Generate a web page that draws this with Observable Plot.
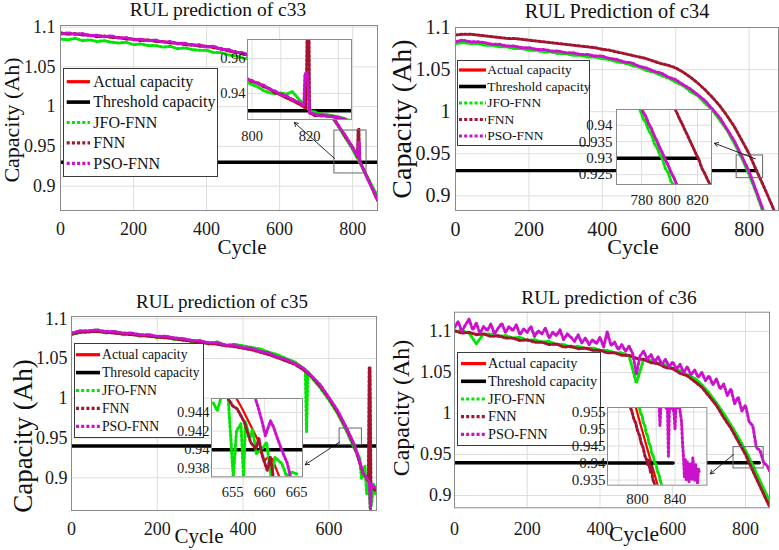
<!DOCTYPE html>
<html>
<head>
<meta charset="utf-8">
<script src="https://cdn.jsdelivr.net/npm/d3@7"></script>
<script src="https://cdn.jsdelivr.net/npm/@observablehq/plot@0.6"></script>
<style>
  html, body { margin: 0; padding: 0; background: #fff; }
  #fig { position: relative; width: 779px; height: 550px; overflow: hidden; background: #fff;
         font-family: "Liberation Serif", "Times New Roman", serif; color: #111; }
  .lbl { position: absolute; white-space: nowrap; line-height: 1; transform: translate(-50%, -50%); }
  .ylbl { transform: translate(-50%, -50%) rotate(-90deg); }
</style>
</head>
<body>
<div id="fig"></div>
<script>
// ---------- capacity data (Ah) per cycle ----------
const cyc20 = [0,20,40,60,80,100,120,140,160,180,200,220,240,260,280,300,320,340,360,380,400,420,440,460,480,500,520,540,560,580,600,620,640,660,680,700,720,740,760,780,800,820,840,860];

// battery c33
const cycles33 = cyc20.concat([868]);
const actual33 = [1.092,1.092,1.091,1.091,1.090,1.089,1.088,1.088,1.087,1.086,
  1.085,1.084,1.084,1.083,1.082,1.081,1.080,1.079,1.078,1.077,
  1.076,1.075,1.073,1.071,1.069,1.067,1.064,1.061,1.058,1.054,
  1.050,1.045,1.039,1.032,1.024,1.015,1.004,0.991,0.977,0.963,
  0.949,0.930,0.911,0.891,0.882];
const jfo33 = [1.085,1.084,1.086,1.083,1.084,1.082,1.083,1.081,1.080,1.081,
  1.078,1.079,1.077,1.077,1.075,1.076,1.073,1.074,1.072,1.071,
  1.071,1.068,1.068,1.065,1.064,1.061,1.060,1.057,1.054,1.051,
  1.047,1.042,1.037,1.030,1.022,1.013,1.002,0.989,0.976,0.961,
  0.946,0.929,0.912,0.894,0.889];
const fnn33 = [1.093,1.091,1.092,1.090,1.090,1.088,1.089,1.087,1.087,1.085,
  1.085,1.083,1.084,1.082,1.082,1.080,1.080,1.078,1.078,1.076,
  1.076,1.074,1.073,1.070,1.069,1.066,1.064,1.060,1.058,1.053,
  1.050,1.044,1.039,1.031,1.024,1.014,1.004,0.990,0.977,0.962,
  0.949,0.931,0.911,0.890,0.882];
const fnnSpike33 = [[813,0.937],[815,0.972],[817,0.972],[819,0.934]];
const pso33 = [1.091,1.093,1.091,1.092,1.089,1.090,1.088,1.089,1.086,1.087,
  1.084,1.085,1.083,1.084,1.081,1.082,1.079,1.080,1.077,1.078,
  1.075,1.076,1.072,1.072,1.068,1.068,1.063,1.062,1.057,1.055,
  1.049,1.046,1.038,1.033,1.023,1.016,1.003,0.992,0.976,0.964,
  0.948,0.931,0.910,0.892,0.883];
const psoSpike33 = [[814,0.938],[816,0.955],[818,0.955],[819.5,0.933]];
const inCycles33 = [798,800,802,804,806,808,810,812,814,816,818,820,822,824,826,828,830,832,834];
const inActual33 = [0.9484,0.9470,0.9457,0.9440,0.9422,0.9404,0.9388,0.9372,0.9356,0.9340,0.9320,0.9292,0.9277,0.9272,0.9270,0.9266,0.9260,0.9250,0.9238];
const inJfo33 = [0.9466,0.9450,0.9438,0.9416,0.9404,0.9398,0.9402,0.9396,0.9410,0.9372,0.9338,0.9302,0.9292,0.9280,0.9278,0.9272,0.9266,0.9256,0.9244];
const inFnn33 = [0.9488,0.9466,0.9462,0.9438,0.9430,0.9402,0.9398,0.9375,0.9368,0.9342,0.9330,0.9288,0.9272,0.9276,0.9268,0.9268,0.9258,0.9252,0.9236];
const inFnnSpike33 = [[818.8,0.9320],[819.2,0.9800],[819.8,0.9800]];
const inPso33 = [0.9482,0.9474,0.9455,0.9448,0.9425,0.9414,0.9392,0.9386,0.9362,0.9352,0.9330,0.9290,0.9280,0.9270,0.9272,0.9264,0.9262,0.9252,0.9240];
const inPsoSpike33 = [[818.4,0.9515],[819.2,0.9515]];

// battery c34
const cycles34 = cyc20.concat([880]);
const actual34 = [1.083,1.084,1.083,1.082,1.081,1.080,1.079,1.078,1.077,1.076,
  1.075,1.074,1.073,1.072,1.071,1.070,1.069,1.068,1.067,1.066,
  1.065,1.063,1.061,1.059,1.057,1.054,1.051,1.048,1.045,1.041,
  1.037,1.032,1.026,1.020,1.012,1.003,0.992,0.979,0.964,0.947,
  0.928,0.905,0.880,null,null];
const jfo34 = [1.081,1.082,1.081,1.081,1.079,1.079,1.077,1.077,1.075,1.075,
  1.073,1.073,1.071,1.071,1.069,1.069,1.067,1.067,1.065,1.065,
  1.063,1.062,1.059,1.058,1.055,1.053,1.049,1.047,1.043,1.040,
  1.035,1.031,1.024,1.019,1.010,1.002,0.990,0.978,0.962,0.945,
  0.925,0.903,0.878,null,null];
const fnn34 = [1.091,1.092,1.092,1.091,1.090,1.089,1.088,1.087,1.087,1.086,
  1.085,1.084,1.083,1.082,1.081,1.080,1.079,1.078,1.077,1.076,
  1.074,1.073,1.071,1.069,1.067,1.065,1.063,1.060,1.057,1.055,
  1.052,1.047,1.041,1.034,1.026,1.017,1.007,0.995,0.982,0.966,
  0.950,0.930,0.911,0.891,0.870];
const pso34 = [1.083,1.085,1.083,1.083,1.082,1.080,1.080,1.078,1.078,1.076,
  1.076,1.074,1.074,1.072,1.072,1.070,1.070,1.068,1.068,1.066,
  1.066,1.063,1.062,1.059,1.058,1.054,1.052,1.048,1.046,1.041,
  1.038,1.032,1.027,1.020,1.013,1.003,0.993,0.979,0.965,0.947,
  0.929,0.905,0.881,null,null];
const inActual34 = [[777,0.9478],[779,0.9459],[781,0.9442],[783,0.9425],[785,0.9404],[787,0.9388],[789,0.9369],[791,0.9350],[793,0.9333],[795,0.9312],[797,0.9296],[799,0.9276],[801,0.9259],[803,0.9240],[805,0.9222],[807,0.9203]];
const inJfo34 = [[775,0.9478],[777,0.9455],[779,0.9446],[781,0.9420],[783,0.9408],[785,0.9384],[787,0.9372],[789,0.9345],[791,0.9332],[793,0.9310],[795,0.9296],[797,0.9268],[799,0.9256],[801,0.9230],[803,0.9218],[805,0.9195]];
const inFnn34 = [[801,0.9475],[803,0.9458],[805,0.9440],[807,0.9421],[809,0.9404],[811,0.9385],[813,0.9368],[815,0.9349],[817,0.9331],[819,0.9312],[821,0.9296],[823,0.9270],[825,0.9255],[827,0.9236],[829,0.9220],[831,0.9200]];
const inPso34 = [[777,0.9480],[779,0.9462],[781,0.9440],[783,0.9427],[785,0.9405],[787,0.9390],[789,0.9368],[791,0.9352],[793,0.9331],[795,0.9315],[797,0.9294],[799,0.9279],[801,0.9257],[803,0.9242],[805,0.9220],[807,0.9205]];

// battery c35
const cycles35 = cyc20.filter(c => c <= 700).concat([708]);
const actual35 = [1.082,1.084,1.085,1.085,1.084,1.083,1.082,1.081,1.080,1.079,
  1.078,1.077,1.076,1.074,1.073,1.071,1.070,1.069,1.067,1.066,
  1.064,1.062,1.059,1.056,1.052,1.048,1.044,1.037,1.028,1.016,
  1.001,0.984,0.964,0.940,0.906,0.890,0.885];
const jfo35 = [1.080,1.083,1.083,1.086,1.082,1.084,1.080,1.082,1.078,1.080,
  1.076,1.078,1.074,1.075,1.071,1.073,1.068,1.071,1.066,1.068,
  1.066,1.064,1.062,1.058,1.055,1.050,1.046,1.038,1.026,1.013,
  0.998,0.981,0.960,0.936,0.910,0.868,0.880];
const jfoSpike35 = [[545,1.036],[548,0.958],[551,1.034],[672,0.925],[676,0.898],[684,0.915],[688,0.880],[692,0.905],[696,0.862],[704,0.892]];
const fnn35 = [1.081,1.083,1.084,1.084,1.083,1.082,1.081,1.080,1.079,1.078,
  1.077,1.076,1.075,1.073,1.072,1.070,1.069,1.068,1.066,1.065,
  1.063,1.061,1.058,1.055,1.051,1.047,1.043,1.036,1.027,1.015,
  1.000,0.983,0.963,0.939,0.905,0.889,0.884];
const fnnSpike35 = [[692,0.896],[694,1.038],[696,1.038],[698,0.893]];
const pso35 = [1.082,1.085,1.085,1.086,1.084,1.084,1.082,1.082,1.080,1.080,
  1.078,1.078,1.076,1.075,1.073,1.072,1.070,1.070,1.067,1.067,
  1.064,1.063,1.059,1.057,1.052,1.049,1.044,1.038,1.028,1.017,
  1.001,0.985,0.964,0.941,0.906,0.891,0.888];
const psoSpike35 = [[694,0.895],[697,0.858],[699,0.892]];
const inActual35 = [[655.5,0.9456],[656.5,0.9444],[657.8,0.9426],[658.9,0.9411],[659.5,0.9399],[659.9,0.9388],[660.5,0.9392],[661.2,0.9390],[661.7,0.9381],[662.4,0.9369]];
const inJfo35 = [[652.0,0.9450],[652.6,0.9442],[653.2,0.9456],[654.3,0.9456],[655.1,0.9370],[655.6,0.9420],[656.3,0.9428],[656.7,0.9370],[657.0,0.9430],[657.7,0.9412],[658.1,0.9422],[658.7,0.9396],[659.5,0.9400],[660.3,0.9408],[661.0,0.9370],[661.6,0.9392],[662.7,0.9385],[663.4,0.9372],[664.3,0.9376],[665.0,0.9374]];
const inFnn35 = [[654.2,0.9456],[655.0,0.9447],[655.7,0.9444],[656.8,0.9430],[657.8,0.9408],[658.6,0.9401],[659.1,0.9412],[659.6,0.9394],[660.4,0.9378],[660.9,0.9392],[661.4,0.9368]];
const inPso35 = [[658.4,0.9458],[659.0,0.9445],[659.6,0.9430],[660.1,0.9415],[660.9,0.9431],[661.4,0.9424],[662.0,0.9412],[662.5,0.9403],[663.0,0.9394],[663.5,0.9386],[664.0,0.9372]];

// battery c36
const cycles36 = cyc20.concat([866]);
const actual36 = [1.100,1.099,1.098,1.097,1.096,1.095,1.094,1.093,1.092,1.090,
  1.089,1.088,1.087,1.085,1.084,1.082,1.081,1.080,1.079,1.078,
  1.077,1.075,1.074,1.072,1.070,1.068,1.065,1.063,1.060,1.057,
  1.054,1.050,1.046,1.040,1.032,1.022,1.010,0.997,0.983,0.968,
  0.952,0.933,0.913,0.894,0.888];
const jfo36 = [1.100,1.101,1.098,1.085,1.097,1.097,1.094,1.095,1.092,1.093,
  1.089,1.090,1.087,1.088,1.084,1.084,1.081,1.082,1.079,1.080,
  1.077,1.077,1.074,1.074,1.070,1.037,1.066,1.065,1.061,1.059,
  1.055,1.052,1.047,1.043,1.035,1.025,1.013,1.000,0.986,0.971,
  0.955,0.937,0.918,0.899,0.894];
const fnn36 = [1.101,1.098,1.099,1.096,1.097,1.094,1.095,1.092,1.092,1.089,
  1.090,1.087,1.087,1.084,1.085,1.081,1.082,1.079,1.080,1.077,
  1.077,1.074,1.074,1.071,1.071,1.067,1.066,1.062,1.061,1.056,
  1.055,1.049,1.046,1.039,1.032,1.021,1.010,0.995,0.982,0.966,
  0.950,0.930,0.911,0.892,0.887];
const psoCycles36 = [0,10,20,30,40,50,60,70,80,90,100,110,120,130,140,150,160,170,180,190,
  200,210,220,230,240,250,260,270,280,290,300,310,320,330,340,350,360,370,380,390,
  400,410,420,430,440,450,460,470,480,490,500,510,520,530,540,550,560,570,580,590,
  600,610,620,630,640,650,660,670,680,690,700,710,720,730,740,750,760,770,780,790,
  800,810,820,830,840,850,860,866];
const pso36 = [1.105,1.112,1.100,1.108,1.115,1.102,1.110,1.098,1.106,1.101,
  1.109,1.097,1.104,1.110,1.099,1.106,1.101,1.108,1.096,1.103,
  1.099,1.106,1.094,1.101,1.097,1.104,1.092,1.099,1.095,1.102,
  1.090,1.097,1.093,1.088,1.096,1.086,1.092,1.084,1.090,1.085,
  1.093,1.081,1.100,1.083,1.087,1.078,1.084,1.076,1.082,1.073,
  1.048,1.070,1.076,1.066,1.072,1.063,1.069,1.060,1.066,1.057,
  1.063,1.054,1.060,1.050,1.057,1.047,1.053,1.044,1.050,1.040,
  1.046,1.035,1.042,1.030,1.036,1.022,1.030,1.012,1.020,1.003,
  1.010,0.990,0.985,0.958,0.955,0.940,0.936,0.930];
const inActual36 = [[796,0.9585],[800,0.9545],[804,0.9505],[808,0.9466],[812,0.9427],[816,0.9388],[820,0.9349],[822,0.9330]];
const inJfo36 = [[800,0.9585],[802,0.9565],[803,0.9548],[805,0.9538],[806,0.9520],[808,0.9508],[809,0.9490],[811,0.9478],[812,0.9460],[814,0.9448],[815,0.9430],[817,0.9418],[818,0.9402],[820,0.9395],[821,0.9378],[823,0.9365],[824,0.9350],[826,0.9335],[827,0.9320]];
const inFnn36 = [[790,0.9585],[792,0.9565],[794,0.9552],[796,0.9530],[798,0.9518],[800,0.9495],[802,0.9482],[804,0.9458],[806,0.9445],[808,0.9420],[810,0.9408],[811,0.9395],[812,0.9410],[813,0.9385],[814,0.9372],[815,0.9390],[816,0.9355],[818,0.9340],[819,0.9325]];
const inPso36 = [[822,0.9580],[823,0.9570],[824,0.9510],[825,0.9575],[828,0.9570],[831,0.9560],[832,0.9560],[833,0.9420],[834,0.9555],[837,0.9570],[839,0.9545],[840,0.9500],[841,0.9565],[845,0.9560],[847,0.9520],[848,0.9460],[849,0.9420],[850,0.9360],[851,0.9410],[852,0.9350],[853,0.9405],[855,0.9345],[856,0.9400],[858,0.9352],[859,0.9415],[861,0.9348],[862,0.9395],[864,0.9342],[865,0.9385],[866,0.9370]];

// end-of-life thresholds and the span over which each is drawn
const threshold33 = 0.93, thrSpan33 = [0, 868];
const threshold34 = 0.93, thrSpan34 = [0, 820];
const threshold35 = 0.94, thrSpan35 = [0, 711];
const threshold36 = 0.94, thrSpan36 = [0, 838];

// zoomed windows [x1, x2, y1, y2] and the point where each pointer starts
const zoom33 = [750, 838, 0.916, 0.970], tail33 = [750, 0.935];
const zoom34 = [766, 838, 0.921, 0.948], tail34 = [817, 0.944];
const zoom35 = [625, 677, 0.941, 0.962], tail35 = [625, 0.945];
const zoom36 = [767, 850, 0.933, 0.959], tail36 = [767, 0.950];

// legend entries
const names33 = ["Actual capacity", "Threshold capacity", "JFO-FNN", "FNN", "PSO-FNN"];
const names34 = ["Actual capacity", "Threshold capacity", "JFO-FNN", "FNN", "PSO-FNN"];
const names35 = ["Actual capacity", "Thresold capacity", "JFO-FNN", "FNN", "PSO-FNN"];
const names36 = ["Actual capacity", "Threshold capacity", "JFO-FNN", "FNN", "PSO-FNN"];

// ---------- styling ----------
const SERIF = '"Liberation Serif", "Times New Roman", serif';
const GRID = "#dedede";
const FRAME = "#8a8a8a";
const keys = ["actual", "threshold", "jfo", "fnn", "pso"];
const look = {
  actual:    {stroke: "#ff0000", width: 2.2, dash: null},
  threshold: {stroke: "#000000", width: 3.4, dash: null},
  jfo:       {stroke: "#00e600", width: 3, dash: "2.2,2.2"},
  fnn:       {stroke: "#a2142f", width: 3, dash: "2.2,2.2"},
  pso:       {stroke: "#cc11cc", width: 3, dash: "2.2,2.2"}
};
const fmt = d => String(d);

// ---------- helpers ----------
function rowsOf(s) {
  if (s.pairs) return s.pairs.map(([c, v]) => ({c, v}));
  const rows = s.c.map((c, i) => ({c, v: s.v[i]}));
  for (const [c, v] of (s.extra || [])) rows.push({c, v});
  return rows.sort((a, b) => a.c - b.c);
}

function curveMarks(series, thrRows) {
  const marks = [];
  for (const k of keys) {
    const rows = k === "threshold" ? thrRows : rowsOf(series[k]);
    const st = look[k];
    marks.push(Plot.line(rows, {
      x: "c", y: "v", stroke: st.stroke, strokeWidth: st.width,
      strokeDasharray: st.dash || undefined, clip: true
    }));
  }
  return marks;
}

const fig = document.getElementById("fig");
function place(el, left, top) {
  el.style.position = "absolute";
  el.style.left = left + "px";
  el.style.top = top + "px";
  fig.appendChild(el);
}
function label(text, x, y, size, rotate) {
  const d = document.createElement("div");
  d.className = rotate ? "lbl ylbl" : "lbl";
  d.textContent = text;
  d.style.left = x + "px";
  d.style.top = y + "px";
  d.style.fontSize = size + "px";
  fig.appendChild(d);
}

function legend(L, names) {
  const svg = d3.create("svg").attr("width", L.w).attr("height", L.h)
    .style("overflow", "visible");
  svg.append("rect").attr("x", 0.5).attr("y", 0.5).attr("width", L.w - 1).attr("height", L.h - 1)
    .attr("fill", "#fff").attr("stroke", "#3a3a3a").attr("stroke-width", 1);
  const step = (L.h - 2 * L.pad) / (names.length - 1);
  names.forEach((name, i) => {
    const y = L.pad + i * step;
    const st = look[keys[i]];
    svg.append("line").attr("x1", L.sw[0]).attr("x2", L.sw[1]).attr("y1", y).attr("y2", y)
      .attr("stroke", st.stroke).attr("stroke-width", keys[i] === "threshold" ? 3.6 : 3.2)
      .attr("stroke-dasharray", st.dash ? "3,2.2" : null);
    svg.append("text").attr("x", L.tx).attr("y", y).attr("dy", "0.33em")
      .attr("font-family", SERIF).attr("font-size", L.font).attr("fill", "#111").text(name);
  });
  place(svg.node(), L.x, L.y);
}

function drawPanel(p) {
  const [bx, by, bw, bh] = p.box;
  const [fx0, fy0, fx1, fy1] = p.frame;
  const thrRows = p.thrSpan.map(c => ({c, v: p.threshold}));

  // pixel <-> data mapping of the main axes, used to aim the pointer at the inset
  const sx = d3.scaleLinear(p.xDomain, [fx0, fx1]);
  const sy = d3.scaleLinear(p.yDomain, [fy1, fy0]);
  const ib = p.inset.box;
  const head = p.inset.head[0] === "bottom"
    ? [ib[0] + p.inset.head[1] * (ib[2] - ib[0]), ib[3] + 3]
    : [ib[2] + 3, ib[1] + p.inset.head[1] * (ib[3] - ib[1])];
  const link = [{x1: p.tail[0], y1: p.tail[1], x2: sx.invert(head[0]), y2: sy.invert(head[1])}];
  const win = [{x1: p.zoom[0], x2: p.zoom[1], y1: p.zoom[2], y2: p.zoom[3]}];

  const main = Plot.plot({
    width: bw, height: bh,
    marginLeft: fx0 - bx, marginRight: bx + bw - fx1,
    marginTop: fy0 - by, marginBottom: by + bh - fy1,
    x: {type: "linear", domain: p.xDomain},
    y: {type: "linear", domain: p.yDomain},
    style: {background: "transparent", fontFamily: SERIF, fontSize: p.tickFont + "px", overflow: "visible", color: "#1a1a1a"},
    marks: [
      Plot.gridX(p.xTicks, {stroke: GRID, strokeOpacity: 1}),
      Plot.gridY(p.yTicks, {stroke: GRID, strokeOpacity: 1}),
      Plot.axisX(p.xTicks, {tickSize: 0, tickPadding: p.padX, tickFormat: fmt, fontSize: p.tickFont, label: null}),
      Plot.axisY(p.yTicks, {tickSize: 0, tickPadding: p.padY, tickFormat: fmt, fontSize: p.tickFont, label: null}),
      ...curveMarks(p.series, thrRows),
      Plot.rect(win, {x1: "x1", x2: "x2", y1: "y1", y2: "y2", fill: "none", stroke: "#666", strokeWidth: 1}),
      Plot.arrow(link, {x1: "x1", y1: "y1", x2: "x2", y2: "y2", stroke: "#111", strokeWidth: 0.9, headLength: 7}),
      Plot.frame({stroke: FRAME})
    ]
  });
  place(main, bx, by);

  legend(p.legend, p.names);

  // magnified inset
  const I = p.inset;
  const ml = 46, mr = 3, mt = 3, mb = 28;
  const iw = ib[2] - ib[0], ih = ib[3] - ib[1];
  const inset = Plot.plot({
    width: iw + ml + mr, height: ih + mt + mb,
    marginLeft: ml, marginRight: mr, marginTop: mt, marginBottom: mb,
    x: {type: "linear", domain: I.xDomain},
    y: {type: "linear", domain: I.yDomain},
    style: {background: "transparent", fontFamily: SERIF, fontSize: I.font + "px", overflow: "visible", color: "#1a1a1a"},
    marks: [
      Plot.frame({fill: "#fff", stroke: "none"}),
      Plot.gridX(I.xGrid, {stroke: GRID, strokeOpacity: 1}),
      Plot.gridY(I.yTicks, {stroke: GRID, strokeOpacity: 1}),
      Plot.axisX(I.xTicks, {tickSize: 0, tickPadding: I.padX, tickFormat: fmt, fontSize: I.font, label: null}),
      Plot.axisY(I.yTicks, {tickSize: 0, tickPadding: I.padY, tickFormat: fmt, fontSize: I.font, label: null}),
      ...curveMarks(I.series, thrRows),
      Plot.frame({stroke: FRAME})
    ]
  });
  place(inset, ib[0] - ml, ib[1] - mt);

  label(p.title, p.titlePos[0], p.titlePos[1], p.titleFont, false);
  label("Cycle", p.xLabel[0], p.xLabel[1], p.xLabel[2], false);
  label("Capacity (Ah)", p.yLabel[0], p.yLabel[1], p.yLabel[2], true);
}

// ---------- the four panels ----------
const panels = [
  {
    title: "RUL prediction of c33", titlePos: [218, 10], titleFont: 19.5,
    box: [0, 0, 389, 275], frame: [60, 25, 377, 210],
    xDomain: [0, 868], yDomain: [0.8694, 1.1021],
    xTicks: [0, 200, 400, 600, 800], yTicks: [0.9, 0.95, 1, 1.05, 1.1],
    tickFont: 18, padX: 12, padY: 5,
    xLabel: [242, 247, 21], yLabel: [12, 120, 22],
    series: {
      actual: {c: cycles33, v: actual33}, jfo: {c: cycles33, v: jfo33},
      fnn: {c: cycles33, v: fnn33, extra: fnnSpike33}, pso: {c: cycles33, v: pso33, extra: psoSpike33}
    },
    threshold: threshold33, thrSpan: thrSpan33, zoom: zoom33, tail: tail33,
    legend: {x: 63, y: 68, w: 155, h: 109, pad: 13.7, sw: [3.7, 27], tx: 30.3, font: 16},
    names: names33,
    inset: {
      box: [247, 39, 351, 119], xDomain: [798.4, 834.6], yDomain: [0.925, 0.971],
      xTicks: [800, 820], xGrid: [800, 810, 820, 830], yTicks: [0.94, 0.96],
      font: 14.5, padX: 11, padY: 2, head: ["bottom", 0.45],
      series: {
        actual: {c: inCycles33, v: inActual33}, jfo: {c: inCycles33, v: inJfo33},
        fnn: {c: inCycles33, v: inFnn33, extra: inFnnSpike33}, pso: {c: inCycles33, v: inPso33, extra: inPsoSpike33}
      }
    }
  },
  {
    title: "RUL Prediction of c34", titlePos: [617, 11], titleFont: 20.3,
    box: [389, 0, 390, 275], frame: [455, 27, 778, 210],
    xDomain: [0, 880], yDomain: [0.8826, 1.1],
    xTicks: [0, 200, 400, 600, 800], yTicks: [0.9, 0.95, 1, 1.05, 1.1],
    tickFont: 20, padX: 11, padY: 5,
    xLabel: [633, 247, 22], yLabel: [402, 119, 28],
    series: {
      actual: {c: cycles34, v: actual34}, jfo: {c: cycles34, v: jfo34},
      fnn: {c: cycles34, v: fnn34}, pso: {c: cycles34, v: pso34}
    },
    threshold: threshold34, thrSpan: thrSpan34, zoom: zoom34, tail: tail34,
    legend: {x: 457, y: 60, w: 133, h: 86, pad: 10, sw: [2, 29], tx: 30.3, font: 13.5},
    names: names34,
    inset: {
      box: [616, 109, 711, 184], xDomain: [762, 830], yDomain: [0.922, 0.9448],
      xTicks: [780, 800, 820], xGrid: [780, 800, 820], yTicks: [0.925, 0.93, 0.935, 0.94],
      font: 15, padX: 10, padY: 4, head: ["right", 0.45],
      series: {
        actual: {pairs: inActual34}, jfo: {pairs: inJfo34}, fnn: {pairs: inFnn34}, pso: {pairs: inPso34}
      }
    }
  },
  {
    title: "RUL prediction of c35", titlePos: [222, 301], titleFont: 19,
    box: [0, 275, 389, 275], frame: [71, 316, 376, 510],
    xDomain: [0, 711], yDomain: [0.8589, 1.1029],
    xTicks: [0, 200, 400, 600], yTicks: [0.9, 0.95, 1, 1.05, 1.1],
    tickFont: 18, padX: 12, padY: 4,
    xLabel: [199, 536, 21], yLabel: [23, 436, 27],
    series: {
      actual: {c: cycles35, v: actual35}, jfo: {c: cycles35, v: jfo35, extra: jfoSpike35},
      fnn: {c: cycles35, v: fnn35, extra: fnnSpike35}, pso: {c: cycles35, v: pso35, extra: psoSpike35}
    },
    threshold: threshold35, thrSpan: thrSpan35, zoom: zoom35, tail: tail35,
    legend: {x: 74, y: 343, w: 130, h: 95, pad: 11.7, sw: [2, 26], tx: 28, font: 13.7},
    names: names35,
    inset: {
      box: [210.7, 397.7, 301.7, 476], xDomain: [651.7, 665.9], yDomain: [0.9371, 0.9455],
      xTicks: [655, 660, 665], xGrid: [655, 660, 665], yTicks: [0.938, 0.94, 0.942, 0.944],
      font: 14.5, padX: 10, padY: 2, head: ["right", 0.85],
      series: {
        actual: {pairs: inActual35}, jfo: {pairs: inJfo35}, fnn: {pairs: inFnn35}, pso: {pairs: inPso35}
      }
    }
  },
  {
    title: "RUL prediction of c36", titlePos: [609, 298], titleFont: 19.4,
    box: [389, 275, 390, 275], frame: [454, 311.7, 769, 507.3],
    xDomain: [0, 866], yDomain: [0.885, 1.1235],
    xTicks: [0, 200, 400, 600, 800], yTicks: [0.9, 0.95, 1, 1.05, 1.1],
    tickFont: 18, padX: 14, padY: 3,
    xLabel: [634, 535, 21.5], yLabel: [401, 408, 24],
    series: {
      actual: {c: cycles36, v: actual36}, jfo: {c: cycles36, v: jfo36},
      fnn: {c: cycles36, v: fnn36}, pso: {c: psoCycles36, v: pso36}
    },
    threshold: threshold36, thrSpan: thrSpan36, zoom: zoom36, tail: tail36,
    legend: {x: 457, y: 352, w: 144, h: 94, pad: 11.6, sw: [4, 29], tx: 31, font: 14.3},
    names: names36,
    inset: {
      box: [607.3, 407.3, 706.7, 485], xDomain: [768, 874], yDomain: [0.9335, 0.9563],
      xTicks: [800, 840], xGrid: [780, 800, 820, 840, 860], yTicks: [0.935, 0.94, 0.945, 0.95, 0.955],
      font: 15, padX: 8, padY: 2, head: ["right", 0.85],
      series: {
        actual: {pairs: inActual36}, jfo: {pairs: inJfo36}, fnn: {pairs: inFnn36}, pso: {pairs: inPso36}
      }
    }
  }
];

panels.forEach(drawPanel);
</script>
</body>
</html>
